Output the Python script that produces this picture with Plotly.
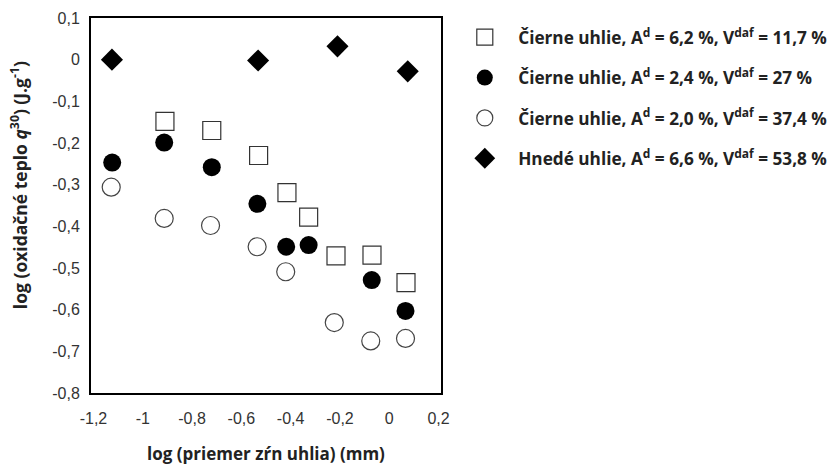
import plotly.graph_objects as go

# log of grain diameter (mm) and log of oxidation heat q30 (J/g) per coal sample
x_sq = [-0.91, -0.72, -0.53, -0.415, -0.327, -0.216, -0.07, 0.068]
y_sq = [-0.148, -0.17, -0.23, -0.319, -0.378, -0.471, -0.469, -0.535]

x_fc = [-1.124, -0.913, -0.72, -0.535, -0.418, -0.327, -0.071, 0.066]
y_fc = [-0.247, -0.199, -0.258, -0.346, -0.449, -0.445, -0.529, -0.603]

x_oc = [-1.128, -0.913, -0.725, -0.536, -0.42, -0.223, -0.075, 0.066]
y_oc = [-0.306, -0.381, -0.398, -0.449, -0.509, -0.631, -0.675, -0.669]

x_dm = [-1.125, -0.532, -0.21, 0.075]
y_dm = [0.0, -0.002, 0.032, -0.028]

names = [
    "Čierne uhlie, A<sup>d</sup> = 6,2 %, V<sup>daf</sup> = 11,7 %",
    "Čierne uhlie, A<sup>d</sup> = 2,4 %, V<sup>daf</sup> = 27 %",
    "Čierne uhlie, A<sup>d</sup> = 2,0 %, V<sup>daf</sup> = 37,4 %",
    "Hnedé uhlie, A<sup>d</sup> = 6,6 %, V<sup>daf</sup> = 53,8 %",
]

x_ticks = [-1.2, -1.0, -0.8, -0.6, -0.4, -0.2, 0.0, 0.2]
y_ticks = [0.1, 0.0, -0.1, -0.2, -0.3, -0.4, -0.5, -0.6, -0.7, -0.8]


def tick_label(v):
    # comma decimal separator and a plain hyphen for negatives
    return f"{v:g}".replace(".", ",")


fig = go.Figure()

series = [
    (x_sq, y_sq, dict(symbol="square-open", size=18, color="#333333", line=dict(width=1.2))),
    (x_fc, y_fc, dict(symbol="circle", size=18, color="black")),
    (x_oc, y_oc, dict(symbol="circle-open", size=18, color="#444444", line=dict(width=1.2))),
    (x_dm, y_dm, dict(symbol="diamond", size=17, color="black")),
]
for i, (xs, ys, mk) in enumerate(series):
    fig.add_trace(go.Scatter(
        x=xs, y=ys, mode="markers", marker=mk,
        name="\u00a0\u00a0\u00a0<b>" + names[i] + "</b>",
        legendgroup=f"g{i}",
    ))

axis_common = dict(
    showgrid=False, zeroline=False, showline=True, linecolor="black",
    linewidth=2, mirror=True, ticks="", automargin=False,
    tickfont=dict(family="Liberation Sans, Arial", size=16, color="#333333"),
)

fig.update_xaxes(
    range=[-1.21, 0.21], tickvals=x_ticks, ticktext=[tick_label(v) for v in x_ticks],
    ticklabelstandoff=10,
    title=dict(text="<b>log (priemer zŕn uhlia) (mm)</b>",
               font=dict(family="Open Sans", size=17, color="#222222"), standoff=22),
    **axis_common,
)
fig.update_yaxes(
    range=[-0.8, 0.1], tickvals=y_ticks, ticktext=[tick_label(v) for v in y_ticks],
    ticklabelstandoff=6,
    **axis_common,
)

# vertical axis caption, sitting a little above the plot centre
fig.add_annotation(
    text="<b>log (oxidačné teplo <i>q</i><sup>30</sup>) (J.g<sup>-1</sup>)</b>",
    xref="paper", yref="paper", x=-0.205, y=0.555,
    xanchor="center", yanchor="middle", textangle=-90, showarrow=False,
    font=dict(family="Open Sans", size=17.5, color="#222222"),
)

fig.update_layout(
    width=830, height=470,
    margin=dict(l=91, r=389, t=18, b=77, autoexpand=False),
    plot_bgcolor="white", paper_bgcolor="white",
    showlegend=True,
    legend=dict(
        x=1.068, y=0.996, xanchor="left", yanchor="top",
        font=dict(family="Open Sans", size=17.2, color="#222222"),
        tracegroupgap=15, itemsizing="trace",
        bgcolor="rgba(0,0,0,0)",
    ),
)

fig.write_html("out.html")
